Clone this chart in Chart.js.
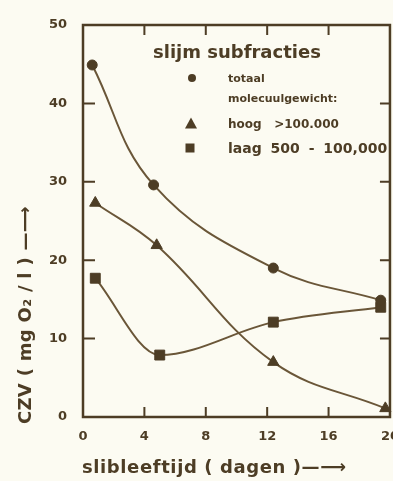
<!DOCTYPE html>
<html>
<head>
<meta charset="utf-8">
<title>CZV slijm subfracties</title>
<script src="https://cdn.jsdelivr.net/npm/chart.js@4.4.1/dist/chart.umd.min.js"></script>
<style>
  html, body { margin: 0; padding: 0; background: #fcfbf2; width: 393px; height: 481px; overflow: hidden; }
  /* iets breder dan het venster: het laatste x-label valt half buiten beeld */
  .wrap { position: relative; width: 399px; height: 481px; }
  .lg { position: absolute; color: #4d3d25; font-family: 'DejaVu Sans', sans-serif; font-weight: bold; white-space: pre; line-height: 1; transform: translateY(-50%); }
  .mk { position: absolute; transform: translate(-50%, -50%); }
  .mk.dot { width: 8px; height: 8px; border-radius: 50%; background: #4d3d25; }
  .mk.sq { width: 9px; height: 9px; background: #4d3d25; }
  .mk.tri { width: 0; height: 0; border-left: 6px solid transparent; border-right: 6px solid transparent; border-bottom: 11px solid #4d3d25; }
  .axis-title { position: absolute; color: #4d3d25; font-family: 'DejaVu Sans', sans-serif; font-weight: bold; font-size: 18px; line-height: 18px; white-space: pre; }
  .axis-title.y { left: 16px; top: 424px; transform-origin: left top; transform: rotate(-90deg); letter-spacing: 0.3px; }
  .axis-title.x { left: 82px; top: 458px; letter-spacing: 0.6px; }
</style>
</head>
<body>
<div class="wrap">
  <canvas id="czv-chart"></canvas>

  <!-- astitels -->
  <div class="axis-title y">CZV ( mg O₂ / l ) —⟶</div>
  <div class="axis-title x">slibleeftijd ( dagen )—⟶</div>

  <!-- legenda -->
  <div class="lg" style="left:153px; top:52px; font-size:18px;">slijm subfracties</div>
  <div class="mk dot" style="left:192px; top:78px;"></div>
  <div class="lg" style="left:228px; top:78px; font-size:11px;">totaal</div>
  <div class="lg" style="left:228px; top:98px; font-size:11px;">molecuulgewicht:</div>
  <div class="mk tri" style="left:191px; top:123px;"></div>
  <div class="lg" style="left:228px; top:124px; font-size:12px;">hoog   &gt;100.000</div>
  <div class="mk sq" style="left:190px; top:148px;"></div>
  <div class="lg" style="left:228px; top:148px; font-size:14px; word-spacing:4px;">laag 500 - 100,000</div>
</div>

<script>
// slibleeftijd (dagen) en CZV (mg O2/l) per subfractie
const totaalX = [0.6, 4.6, 12.4, 19.4];
const totaalY = [44.9, 29.6, 19.0, 14.9];
const hoogX = [0.8, 4.8, 12.4, 19.7];
const hoogY = [27.3, 21.9, 7.0, 1.1];
const laagX = [0.8, 5.0, 12.4, 19.4];
const laagY = [17.7, 7.9, 12.1, 14.0];

const xTicks = [0, 4, 8, 12, 16, 20];
const yTicks = [0, 10, 20, 30, 40, 50];

const INK = '#4d3d25';
const LINE = '#6a5638';
const FONT = "'DejaVu Sans', sans-serif";

const toPoints = (xs, ys) => xs.map((x, i) => ({ x: x, y: ys[i] }));

// kader rondom het plotvlak met naar binnen wijzende streepjes
const framePlugin = {
  id: 'frame',
  beforeDatasetsDraw(chart) {
    const { ctx, chartArea: a, scales } = chart;
    const len = 10;
    ctx.save();
    ctx.strokeStyle = INK;
    ctx.lineWidth = 2.5;
    ctx.strokeRect(a.left, a.top, a.right - a.left, a.bottom - a.top);
    ctx.lineWidth = 2;
    ctx.beginPath();
    xTicks.slice(1, -1).forEach(v => {
      const px = scales.x.getPixelForValue(v);
      ctx.moveTo(px, a.bottom); ctx.lineTo(px, a.bottom - len);
      ctx.moveTo(px, a.top); ctx.lineTo(px, a.top + len);
    });
    yTicks.slice(1, -1).forEach(v => {
      const py = scales.y.getPixelForValue(v);
      ctx.moveTo(a.left, py); ctx.lineTo(a.left + len + 2, py);
      ctx.moveTo(a.right, py); ctx.lineTo(a.right - len, py);
    });
    ctx.stroke();
    ctx.restore();
  }
};

const series = (data, style, radius, mode) => ({
  data: data,
  showLine: true,
  borderColor: LINE,
  borderWidth: 2,
  tension: 0.4,
  cubicInterpolationMode: mode,
  pointStyle: style,
  pointRadius: radius,
  pointBackgroundColor: INK,
  pointBorderColor: INK,
  pointBorderWidth: 1,
  clip: false
});

new Chart(document.getElementById('czv-chart'), {
  type: 'scatter',
  data: {
    datasets: [
      series(toPoints(totaalX, totaalY), 'circle', 5, 'default'),
      series(toPoints(hoogX, hoogY), 'triangle', 6.5, 'default'),
      series(toPoints(laagX, laagY), 'rect', 7, 'monotone')
    ]
  },
  options: {
    responsive: true,
    maintainAspectRatio: false,
    animation: false,
    events: [],
    layout: { padding: { top: 25, right: 3, left: 0, bottom: 0 } },
    plugins: { legend: { display: false }, tooltip: { enabled: false } },
    scales: {
      x: {
        type: 'linear',
        min: 0,
        max: 20,
        afterBuildTicks: (scale) => { scale.ticks = xTicks.map(v => ({ value: v })); },
        afterFit: (scale) => { scale.height = 64; },
        // ticks.padding telt mee in de rechtermarge, dus de afstand via tickLength
        grid: { display: false, tickLength: 12 },
        border: { display: false },
        ticks: { color: INK, padding: 0, maxRotation: 0, font: { family: FONT, size: 13, weight: 'bold' } }
      },
      y: {
        type: 'linear',
        min: 0,
        max: 50,
        afterBuildTicks: (scale) => { scale.ticks = yTicks.map(v => ({ value: v })); },
        afterFit: (scale) => { scale.width = 83; },
        grid: { display: false, tickLength: 8 },
        border: { display: false },
        ticks: { color: INK, padding: 8, font: { family: FONT, size: 13, weight: 'bold' } }
      }
    }
  },
  plugins: [framePlugin]
});
</script>
</body>
</html>
